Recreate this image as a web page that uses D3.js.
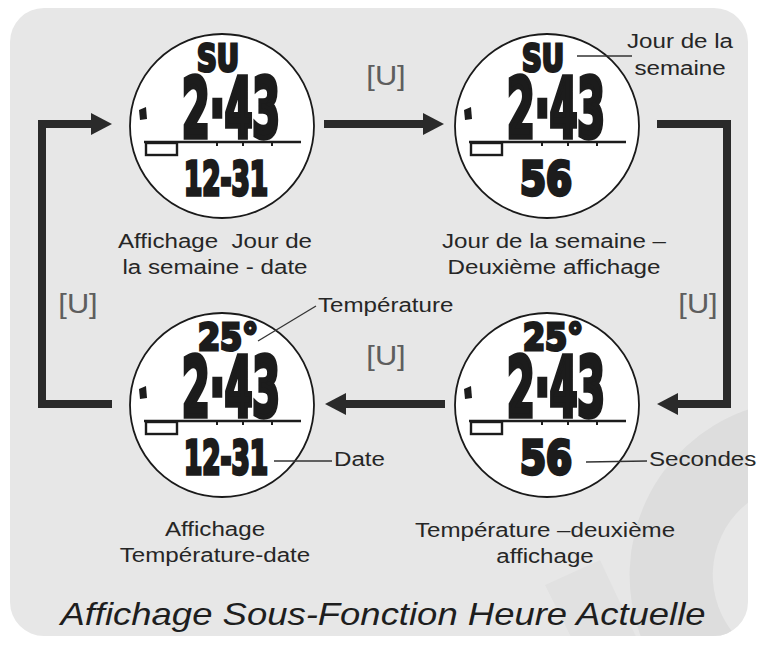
<!DOCTYPE html>
<html><head><meta charset="utf-8">
<script src="https://cdn.jsdelivr.net/npm/d3@7"></script>
<style>html,body{margin:0;padding:0;background:#fff;}svg{display:block}</style>
</head><body><div id="chart"></div>
<script>
// ---------- data ----------
const watchCol = [0, 1, 0, 1];
const watchRow = [0, 0, 1, 1];
const topReadout = ["SU", "SU", "25°", "25°"];
const timeReadout = ["2·43", "2·43", "2·43", "2·43"];
const bottomReadout = ["12-31", "56", "12-31", "56"];
const captionLines = [
  ["Affichage  Jour de", "la semaine - date"],
  ["Jour de la semaine –", "Deuxième affichage"],
  ["Affichage", "Température-date"],
  ["Température –deuxième", "affichage"]
];
const flowOrder = [0, 1, 3, 2, 0];
const buttonLabel = "[U]";
const calloutText = [["Jour de la", "semaine"], ["Température"], ["Date"], ["Secondes"]];
const calloutWatch = [1, 2, 2, 3];
const titleText = "Affichage Sous-Fonction Heure Actuelle";

// ---------- layout ----------
const W = 758, H = 645;
const R = 92;
const x = d3.scalePoint().domain([0, 1]).range([222, 547]);
const y = d3.scalePoint().domain([0, 1]).range([126, 405]);
const midX = (x(0) + x(1)) / 2;
const SX = 1.15;
const ink = "#262626";
const lcdWidth = {"SU": 42, "25°": 60, "2·43": 98, "12-31": 84, "56": 52};
const lcdShift = {"SU": -4, "25°": 6, "2·43": 9, "12-31": 4, "56": -1};

const svg = d3.select("#chart").append("svg").attr("width", W).attr("height", H);
const defs = svg.append("defs");
defs.append("clipPath").attr("id", "bgclip").append("rect")
  .attr("x", 10).attr("y", 8).attr("width", 738).attr("height", 628).attr("rx", 34);

svg.append("rect").attr("width", W).attr("height", H).attr("fill", "#fff");
svg.append("rect").attr("x", 10).attr("y", 8).attr("width", 738).attr("height", 628)
  .attr("rx", 34).attr("fill", "#e7e7e7");

// faint watermark
const wm = svg.append("g").attr("clip-path", "url(#bgclip)");
wm.append("path")
  .attr("d", d3.arc().innerRadius(92).outerRadius(175).startAngle(-Math.PI * 1.05).endAngle(-Math.PI * 0.05)())
  .attr("transform", "translate(805,575)").attr("fill", "#dddddd");
wm.append("path").attr("d", "M575,645 L640,645 L600,560 L545,585 Z").attr("fill", "#e1e1e1");

function stretched(g, tx, ty, str, size, anchor) {
  return g.append("text")
    .attr("transform", `translate(${tx},${ty}) scale(${SX},1)`)
    .attr("text-anchor", anchor)
    .attr("font-family", "'Liberation Sans', Arial, Helvetica, sans-serif")
    .attr("font-size", size).attr("fill", ink)
    .attr("xml:space", "preserve").style("white-space", "pre")
    .text(str);
}
function centerOf(i) { return [x(watchCol[i]), y(watchRow[i])]; }

// ---------- arrows ----------
const arrowG = svg.append("g");
const arrowColor = "#2a2a2a";
function arrowHead(tip, dir) {
  const [tx, ty] = tip, L = 21, h = 11;
  return [[tx, ty], [tx - dir * L, ty - h], [tx - dir * L, ty + h]];
}
flowOrder.slice(0, -1).forEach((from, k) => {
  const to = flowOrder[k + 1];
  const [fx, fy] = centerOf(from), [tx, ty] = centerOf(to);
  let pts, tip, dir;
  if (fy === ty) {
    dir = tx > fx ? 1 : -1;
    const ay = fy - 2 + watchRow[from];
    tip = [tx - dir * (R + 11), ay];
    pts = [[fx + dir * (R + 10), ay], [tip[0] - dir * 18, ay]];
  } else {
    const side = fx > midX ? 1 : -1;
    const sx = fx + side * (R + 88);
    const sy = fy - 2 + watchRow[from];
    const ey = ty - 2 + watchRow[to];
    tip = [tx + side * (R + 18), ey];
    pts = [[fx + side * (R + 18), sy], [sx, sy], [sx, ey], [tip[0] + side * 18, ey]];
    dir = -side;
  }
  arrowG.append("path").attr("d", d3.line()(pts))
    .attr("fill", "none").attr("stroke", arrowColor).attr("stroke-width", 8)
    .attr("stroke-linejoin", "miter").attr("stroke-linecap", "butt");
  arrowG.append("path").attr("d", d3.line()(arrowHead(tip, dir)) + "Z").attr("fill", arrowColor);
});

// button labels
const btnPos = [[386, 85], [698, 313], [386, 365], [78, 313]];
btnPos.forEach(([bx, by]) => {
  svg.append("text").attr("transform", `translate(${bx},${by}) scale(1.1,1)`)
    .attr("text-anchor", "middle")
    .attr("font-family", "'Liberation Sans', Arial, sans-serif")
    .attr("font-size", 28).attr("font-weight", 300)
    .attr("fill", "#5e5e5e").text(buttonLabel);
});

// ---------- watches ----------
const watches = svg.selectAll("g.watch").data(d3.range(4)).join("g")
  .attr("class", "watch")
  .attr("transform", i => `translate(${x(watchCol[i])},${y(watchRow[i])})`);

watches.append("circle").attr("r", R).attr("fill", "#fff")
  .attr("stroke", "#1a1a1a").attr("stroke-width", 1.8);

function lcd(sel, accessor, base, size, sw) {
  sel.append("text")
    .attr("x", i => lcdShift[accessor(i)])
    .attr("y", base)
    .attr("text-anchor", "middle")
    .attr("font-family", "'Liberation Sans Narrow','DejaVu Sans Condensed','Liberation Sans',sans-serif")
    .attr("font-weight", "bold")
    .attr("font-size", size)
    .attr("fill", "#1c1c1c").attr("stroke", "#1c1c1c").attr("stroke-width", sw)
    .attr("stroke-linejoin", "miter")
    .attr("textLength", i => lcdWidth[accessor(i)])
    .attr("lengthAdjust", "spacingAndGlyphs")
    .text(i => accessor(i));
}
lcd(watches, i => topReadout[i], -55, 38, 3);
lcd(watches, i => timeReadout[i], 11, 82, 5.5);
lcd(watches, i => bottomReadout[i], 69, 47, 3.4);

watches.append("path").attr("d", "M-83,-16 L-76,-19 L-75,-7 L-82,-6 Z").attr("fill", "#1c1c1c");
watches.append("line").attr("x1", -78).attr("x2", 79).attr("y1", 16).attr("y2", 16)
  .attr("stroke", "#1c1c1c").attr("stroke-width", 2.5);
[-5, 21, 50].forEach(tx => {
  watches.append("line").attr("x1", tx).attr("x2", tx).attr("y1", 16).attr("y2", 20)
    .attr("stroke", "#1c1c1c").attr("stroke-width", 2);
});
watches.append("rect").attr("x", -76).attr("y", 17).attr("width", 31).attr("height", 12)
  .attr("fill", "none").attr("stroke", "#1c1c1c").attr("stroke-width", 2.4);

// captions
const capG = svg.append("g");
const capDx = [-7, 7, -7, -2];
const capDy = [122, 122, 131, 132];
d3.range(4).forEach(i => {
  const [cx, cy] = centerOf(i);
  captionLines[i].forEach((line, j) => {
    stretched(capG, cx + capDx[i], cy + capDy[i] + j * 26, line, 21, "middle");
  });
});

// callouts
const coG = svg.append("g");
const coText = [[133, -78, "middle"], [96, -93, "start"], [112, 61, "start"], [102, 61, "start"]];
const coLine = [[[30, -70], [85, -70]], [[36, -64], [94, -99]], [[52, 56], [110, 56]], [[39, 57], [100, 56]]];
calloutText.forEach((lines, k) => {
  const [cx, cy] = centerOf(calloutWatch[k]);
  coG.append("path").attr("d", d3.line()(coLine[k].map(([a, b]) => [cx + a, cy + b])))
    .attr("stroke", "#333").attr("stroke-width", 1.3).attr("fill", "none");
  lines.forEach((ln, j) => {
    stretched(coG, cx + coText[k][0], cy + coText[k][1] + j * 27, ln, 21, coText[k][2]);
  });
});

// title
svg.append("text").attr("transform", `translate(383,625) scale(1.14,1)`)
  .attr("text-anchor", "middle")
  .attr("font-family", "'Liberation Sans', Arial, Helvetica, sans-serif")
  .attr("font-style", "italic").attr("font-size", 32).attr("fill", "#1e1e1e")
  .text(titleText);
</script></body></html>
